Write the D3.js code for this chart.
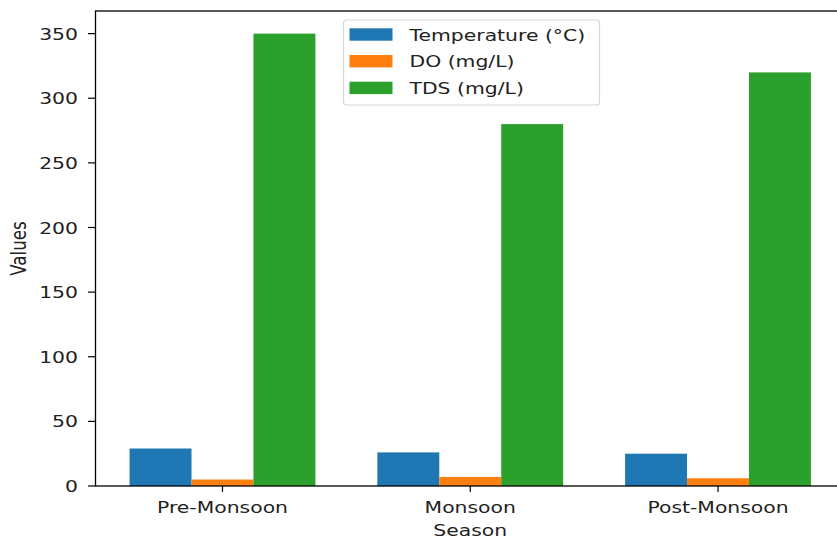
<!DOCTYPE html>
<html>
<head>
    <title>Water Quality by Season</title>
    <script src="https://cdn.jsdelivr.net/npm/d3@7"></script>
    <style>
        body { margin: 0; background: #fff; }
        text { font-family: "DejaVu Sans", sans-serif; fill: #222; }
    </style>
</head>
<body>
    <svg width="837" height="540" id="mainSvg"></svg>
    <script>
        // data
        const seasons = ["Pre-Monsoon", "Monsoon", "Post-Monsoon"];
        const seriesNames = ["Temperature (°C)", "DO (mg/L)", "TDS (mg/L)"];
        const temperature = [29, 26, 25];
        const dissolvedOxygen = [5, 7, 6];
        const tds = [350, 280, 320];
        const yTicks = [0, 50, 100, 150, 200, 250, 300, 350];
        const colors = ["#1f77b4", "#ff7f0e", "#2ca02c"];

        const seriesValues = [temperature, dissolvedOxygen, tds];

        const svg = d3.select("#mainSvg");
        // axes box (right edge sits just beyond the window)
        const axLeft = 95.5, axRight = 845, axTop = 11, axBottom = 486;
        const fontSize = 16.7;
        const stretch = 1.22;   // picture is a bit wider than tall
        const barW = 0.25;

        // matplotlib-style limits: bars span -0.375..2.375 plus 5% margins
        const span = (seasons.length - 1) + 3 * barW;
        const pad = span * 0.05;
        const x = d3.scaleLinear()
            .domain([-1.5 * barW - pad, seasons.length - 1 + 1.5 * barW + pad])
            .range([axLeft, axRight]);
        const y = d3.scaleLinear()
            .domain([0, d3.max(tds) * 1.05])
            .range([axBottom, axTop]);

        // bars
        seriesValues.forEach((vals, si) => {
            svg.append("g")
                .selectAll("rect")
                .data(vals)
                .join("rect")
                .attr("x", (d, i) => x(i + (si - 1) * barW - barW / 2))
                .attr("width", (d, i) => x(i + barW) - x(i))
                .attr("y", d => y(d))
                .attr("height", d => y(0) - y(d))
                .attr("fill", colors[si]);
        });

        function label(g, tx, ty, txt, anchor, extra) {
            return g.append("text")
                .attr("transform", `translate(${tx},${ty}) scale(${stretch},1)` + (extra || ""))
                .attr("text-anchor", anchor)
                .attr("font-size", fontSize)
                .text(txt);
        }

        // y ticks
        const gy = svg.append("g");
        yTicks.forEach(t => {
            gy.append("line")
                .attr("x1", axLeft - 7.5).attr("x2", axLeft)
                .attr("y1", y(t)).attr("y2", y(t))
                .attr("stroke", "#000").attr("stroke-width", 1.2);
            label(gy, axLeft - 17.5, y(t), t, "end").attr("dy", "0.36em");
        });

        // x ticks
        const gx = svg.append("g");
        seasons.forEach((s, i) => {
            gx.append("line")
                .attr("x1", x(i)).attr("x2", x(i))
                .attr("y1", axBottom).attr("y2", axBottom + 6)
                .attr("stroke", "#000").attr("stroke-width", 1.2);
            label(gx, x(i), 512.5, s, "middle");
        });

        // spines
        svg.append("rect")
            .attr("x", axLeft).attr("y", axTop)
            .attr("width", axRight - axLeft).attr("height", axBottom - axTop)
            .attr("fill", "none").attr("stroke", "#000").attr("stroke-width", 1.3);

        // axis titles
        const mid = (axLeft + axRight) / 2;
        label(svg, mid, 535.5, "Season", "middle");
        label(svg, 26, (axTop + axBottom) / 2, "Values", "middle", " rotate(-90)");

        // legend (upper center)
        const lg = svg.append("g");
        lg.append("rect")
            .attr("x", 343.5).attr("y", 20)
            .attr("width", 256).attr("height", 85)
            .attr("rx", 3)
            .attr("fill", "#fff").attr("fill-opacity", 0.8)
            .attr("stroke", "#d6d6d6").attr("stroke-width", 1.2);
        seriesNames.forEach((name, i) => {
            const cy = 34.5 + i * 26.7;
            lg.append("rect")
                .attr("x", 349.5).attr("y", cy - 6.2)
                .attr("width", 43).attr("height", 12.4)
                .attr("fill", colors[i]);
            label(lg, 409.5, cy, name, "start").attr("dy", "0.36em");
        });
    </script>
</body>
</html>
